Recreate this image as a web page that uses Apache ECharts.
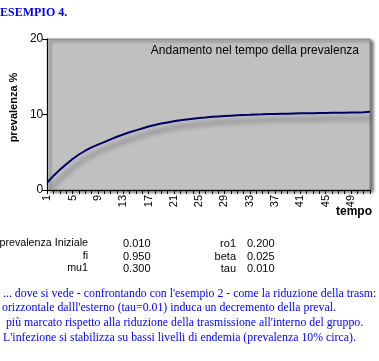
<!DOCTYPE html>
<html>
<head>
<meta charset="utf-8">
<script src="https://cdn.jsdelivr.net/npm/echarts@6/dist/echarts.min.js"></script>
<style>html,body{margin:0;padding:0;background:#fff;}#c{width:379px;height:361px;}</style>
</head>
<body>
<div id="c"></div>
<script>
var tempo = [];
for (var i = 1; i <= 52; i++) tempo.push(String(i));
var prevalenza = [1.0, 1.9, 2.7, 3.4, 4.1, 4.7, 5.2, 5.65, 6.0, 6.35, 6.7, 7.05, 7.35, 7.65, 7.9, 8.15, 8.4, 8.6, 8.8, 8.95,
  9.1, 9.25, 9.35, 9.45, 9.55, 9.6, 9.7, 9.75, 9.8, 9.85, 9.9, 9.93, 9.96, 10.0, 10.02, 10.05, 10.07, 10.09, 10.11, 10.13,
  10.15, 10.16, 10.18, 10.19, 10.2, 10.22, 10.23, 10.24, 10.25, 10.26, 10.3, 10.35];
var yTicks = [0, 10, 20];
var paramLeftNames = ['prevalenza Iniziale', 'fi', 'mu1'];
var paramLeftValues = ['0.010', '0.950', '0.300'];
var paramRightNames = ['ro1', 'beta', 'tau'];
var paramRightValues = ['0.200', '0.025', '0.010'];
var noteLines = [
  '... dove si vede - confrontando con l\'esempio 2 - come la riduzione della trasm:',
  'orizzontale dalll\'esterno (tau=0.01) induca un decremento della preval.',
  ' più marcato rispetto alla riduzione della trasmissione all\'interno del gruppo.',
  'L\'infezione si stabilizza su bassi livelli di endemia (prevalenza 10% circa).'
];

var chart = echarts.init(document.getElementById('c'), null, {renderer: 'canvas'});
var sans = 'Liberation Sans, Arial, sans-serif';
var serif = 'Liberation Serif, Times New Roman, serif';
var graphics = [
  {type: 'text', x: 0, y: 7, style: {text: 'ESEMPIO 4.', font: 'bold 12px ' + serif, fill: '#0000FF'}},
  {type: 'text', right: 20, top: 45, style: {text: 'Andamento nel tempo della prevalenza', font: '12px ' + sans, fill: '#000'}},
  {type: 'text', left: 336, top: 206, style: {text: 'tempo', font: 'bold 12px ' + sans, fill: '#000'}}
];
var rowY = [238, 251, 263];
for (var r = 0; r < 3; r++) {
  graphics.push({type: 'text', x: 88, y: rowY[r], style: {text: paramLeftNames[r], font: '10.7px ' + sans, fill: '#000', align: 'right'}});
  graphics.push({type: 'text', x: 123, y: rowY[r], style: {text: paramLeftValues[r], font: '11px ' + sans, fill: '#000'}});
  graphics.push({type: 'text', x: 236, y: rowY[r], style: {text: paramRightNames[r], font: '11px ' + sans, fill: '#000', align: 'right'}});
  graphics.push({type: 'text', x: 247, y: rowY[r], style: {text: paramRightValues[r], font: '11px ' + sans, fill: '#000'}});
}
var noteY = [287, 301, 316, 331];
var noteX = [3, 2, 3, 3];
for (var n = 0; n < noteLines.length; n++) {
  graphics.push({type: 'text', x: noteX[n], y: noteY[n], scaleX: 0.909, style: {text: noteLines[n], font: '13px ' + serif, fill: '#0000FF'}});
}

chart.setOption({
  animation: false,
  graphic: graphics,
  grid: {
    left: 33, right: 9, top: 39, bottom: 171,
    show: true, backgroundColor: '#C0C0C0', borderColor: '#808080', borderWidth: 1,
    shadowColor: 'rgba(0,0,0,0.55)', shadowBlur: 3, shadowOffsetX: 3, shadowOffsetY: 2
  },
  xAxis: {
    type: 'category', data: tempo, boundaryGap: false,
    axisLine: {lineStyle: {color: '#000', width: 1}},
    axisTick: {interval: 0, length: 4, lineStyle: {color: '#000'}},
    axisLabel: {interval: 3, rotate: 90, fontSize: 11, fontFamily: sans, color: '#000', margin: 5},
    splitLine: {show: false}
  },
  yAxis: {
    type: 'value', min: 0, max: 20, interval: 10,
    name: 'prevalenza %', nameLocation: 'middle', nameRotate: 90, nameGap: 20,
    nameTextStyle: {fontSize: 11, fontWeight: 'bold', fontFamily: sans, color: '#000', padding: [0, 0, 0, 14]},
    axisLine: {show: true, lineStyle: {color: '#000', width: 1}},
    axisTick: {show: true, length: 5, lineStyle: {color: '#000'}},
    axisLabel: {fontSize: 12, fontFamily: sans, color: '#000', margin: 4,
      formatter: function (v) { return yTicks.indexOf(v) >= 0 ? String(v) : ''; }},
    splitLine: {show: false}
  },
  series: [{
    type: 'line', data: prevalenza, showSymbol: false, symbol: 'none', smooth: false,
    lineStyle: {color: '#000066', width: 2, shadowColor: 'rgba(0,0,0,0.45)', shadowBlur: 5, shadowOffsetX: 4, shadowOffsetY: 6}
  }]
});
</script>
</body>
</html>
